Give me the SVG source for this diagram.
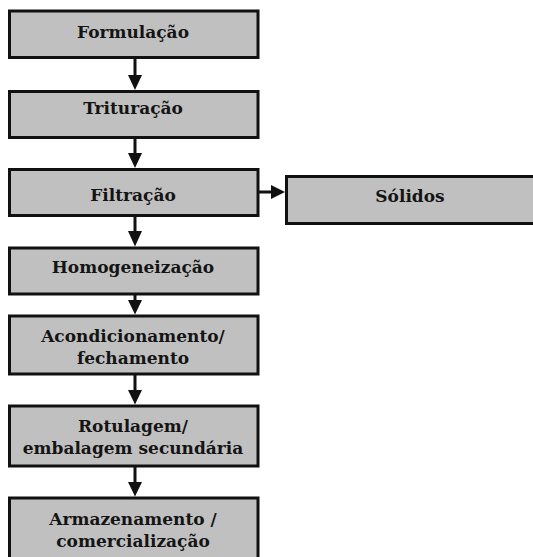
<svg xmlns="http://www.w3.org/2000/svg" width="533" height="557" viewBox="0 0 533 557">
<style>
.box{fill:#c0c0c0;stroke:#111;stroke-width:3}
.t{font-family:"DejaVu Serif","Liberation Serif",serif;font-weight:bold;font-size:17px;fill:#141414;text-anchor:middle}
.c{stroke:#111;stroke-width:3;fill:none}
.h{fill:#111}
</style>
<rect width="533" height="557" fill="#fff"/>
<g id="formulacao"><rect class="box" x="9.5" y="11" width="248.5" height="46.5"/><text class="t" x="133" y="38">Formulação</text></g>
<g id="trituracao"><rect class="box" x="9.5" y="91.5" width="248.5" height="46"/><text class="t" x="133" y="114">Trituração</text></g>
<g id="filtracao"><rect class="box" x="9.5" y="169.5" width="248.5" height="46"/><text class="t" x="133" y="201">Filtração</text></g>
<g id="solidos"><rect class="box" x="286.5" y="176.5" width="250" height="47"/><text class="t" x="410" y="202">Sólidos</text></g>
<g id="homogeneizacao"><rect class="box" x="9.5" y="248" width="248.5" height="46"/><text class="t" x="133" y="273">Homogeneização</text></g>
<g id="acondicionamento"><rect class="box" x="9.5" y="316" width="248.5" height="58"/><text class="t" x="133" y="342">Acondicionamento/</text><text class="t" x="133" y="364">fechamento</text></g>
<g id="rotulagem"><rect class="box" x="9.5" y="406" width="248.5" height="60"/><text class="t" x="133" y="432">Rotulagem/</text><text class="t" x="133" y="454">embalagem secundária</text></g>
<g id="armazenamento"><rect class="box" x="9.5" y="498" width="248.5" height="70"/><text class="t" x="133" y="525">Armazenamento /</text><text class="t" x="133" y="547">comercialização</text></g>
<g id="connectors">
<line class="c" x1="135" y1="57.5" x2="135" y2="78"/><polygon class="h" points="128,75 142,75 135,90"/>
<line class="c" x1="135" y1="137.5" x2="135" y2="156"/><polygon class="h" points="128,153 142,153 135,168"/>
<line class="c" x1="135" y1="215.5" x2="135" y2="235"/><polygon class="h" points="128,231 142,231 135,246.5"/>
<line class="c" x1="135" y1="294" x2="135" y2="304"/><polygon class="h" points="128,300 142,300 135,314.5"/>
<line class="c" x1="135" y1="374" x2="135" y2="394"/><polygon class="h" points="128,390 142,390 135,404.5"/>
<line class="c" x1="135" y1="466" x2="135" y2="486"/><polygon class="h" points="128,482 142,482 135,496.5"/>
<line class="c" x1="258" y1="192" x2="274" y2="192"/><polygon class="h" points="271,185 271,199 285,192"/>
</g>
</svg>
